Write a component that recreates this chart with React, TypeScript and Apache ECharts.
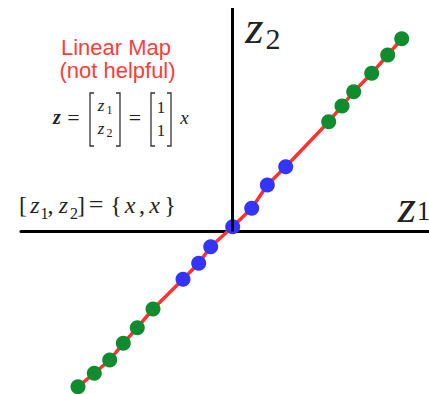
import React, { useEffect, useRef } from "react";
import * as echarts from "echarts";

// Point coordinates (z1, z2), in diagram units
const greenZ1 = [-154, -137.7, -122.3, -108.7, -94.7, -79, 96.7, 110, 121.7, 139.7, 155.7, 169.7];
const greenZ2 = [-155.2, -141.8, -128.5, -111.8, -96.2, -77.5, 109.8, 125.5, 139.8, 158.2, 176.5, 192.7];
const blueZ1 = [-49, -33.3, -21.3, 0.7, 19.7, 35.3, 53.7];
const blueZ2 = [-47.8, -31.8, -15.2, 4.8, 23.2, 46.5, 64.8];

const xMin = -211;
const xMax = 197;
const yMin = -162.5;
const yMax = 223.5;

const title = ["Linear Map", "(not helpful)"];

const serif = "'Liberation Serif', 'DejaVu Serif', serif";
const sans = "'Liberation Sans', Arial, sans-serif";
const ink = "#222";

function t(
  text: string,
  x: number,
  y: number,
  size: number,
  opts: { italic?: boolean; bold?: boolean; family?: string; fill?: string } = {}
) {
  return {
    type: "text",
    x,
    y,
    z: 100,
    silent: true,
    style: {
      text,
      fontSize: size,
      fontFamily: opts.family || serif,
      fontStyle: opts.italic ? "italic" : "normal",
      fontWeight: opts.bold ? "bold" : "normal",
      fill: opts.fill || ink,
      textAlign: "center",
      textVerticalAlign: "middle",
      verticalAlign: "middle",
    },
  };
}

function bracket(x: number, dir: number, top: number, bottom: number) {
  return {
    type: "polyline",
    z: 100,
    silent: true,
    shape: {
      points: [
        [x + dir * 4, top],
        [x, top],
        [x, bottom],
        [x + dir * 4, bottom],
      ],
    },
    style: { stroke: "#333", lineWidth: 1.3, fill: "none" },
  };
}

export default function App() {
  const ref = useRef<HTMLDivElement>(null);
  useEffect(() => {
    if (!ref.current) return;
    const chart = echarts.init(ref.current, null, { renderer: "svg" });
    const green = greenZ1.map((v, i) => [v, greenZ2[i]]);
    const blue = blueZ1.map((v, i) => [v, blueZ2[i]]);
    const all = [...green, ...blue].sort((a, b) => a[0] - b[0]);

    chart.setOption({
      animation: false,
      backgroundColor: "#fff",
      grid: { left: 21, right: 0, top: 8, bottom: 0, containLabel: false },
      xAxis: {
        type: "value",
        min: xMin,
        max: xMax,
        axisLine: { show: true, onZero: true, lineStyle: { color: "#000", width: 3 } },
        axisTick: { show: false },
        axisLabel: { show: false },
        splitLine: { show: false },
      },
      yAxis: {
        type: "value",
        min: yMin,
        max: yMax,
        axisLine: { show: false },
        axisTick: { show: false },
        axisLabel: { show: false },
        splitLine: { show: false },
      },
      series: [
        {
          type: "line",
          data: all,
          showSymbol: false,
          lineStyle: { color: "#ff3333", width: 3.5 },
          z: 2,
          markLine: {
            silent: true,
            symbol: "none",
            label: { show: false },
            lineStyle: { color: "#000", width: 3, type: "solid" },
            data: [[{ coord: [0, 0] }, { coord: [0, yMax] }]],
          },
        },
        {
          type: "scatter",
          data: green,
          symbolSize: 15,
          itemStyle: { color: "#0f8c2e", opacity: 1 },
          z: 3,
        },
        {
          type: "scatter",
          data: blue,
          symbolSize: 15,
          itemStyle: { color: "#3434ff", opacity: 1 },
          z: 3,
        },
      ],
      graphic: [
        t(title[0], 116, 47, 22, { family: sans, fill: "#ff3d3d" }),
        t(title[1], 117.5, 70, 22, { family: sans, fill: "#ff3d3d" }),
        // z = [z1; z2] = [1; 1] x
        t("z", 57, 117, 20, { italic: true, bold: true }),
        t("=", 73.5, 117, 22),
        bracket(90, 1, 93, 146),
        t("z", 101, 105.5, 17, { italic: true }),
        t("1", 109.5, 109.5, 12),
        t("z", 101, 128.5, 17, { italic: true }),
        t("2", 109.5, 132.5, 12),
        bracket(120, -1, 93, 146),
        t("=", 135, 117, 22),
        bracket(151, 1, 93, 146),
        t("1", 161, 107, 17),
        t("1", 161, 130, 17),
        bracket(171, -1, 93, 146),
        t("x", 184.5, 117, 19, { italic: true }),
        // [z1, z2] = {x, x}
        t("[", 23, 204.6, 24),
        t("z", 35, 204.6, 24, { italic: true }),
        t("1", 44.5, 213.5, 16),
        t(",", 50.5, 204.6, 24),
        t("z", 63.5, 204.6, 24, { italic: true }),
        t("2", 74, 213.5, 16),
        t("]", 81, 204.6, 24),
        t("=", 96, 204.6, 26),
        t("{", 116, 204.6, 24),
        t("x", 130, 204.6, 24, { italic: true }),
        t(",", 142, 204.6, 24),
        t("x", 154.5, 204.6, 24, { italic: true }),
        t("}", 170, 204.6, 24),
        // axis labels
        t("z", 254.5, 27, 47, { italic: true }),
        t("2", 273, 38.5, 30),
        t("z", 407, 206, 47, { italic: true }),
        t("1", 423.5, 211, 27),
      ],
    });
    return () => chart.dispose();
  }, []);
  return (
    <div
      ref={ref}
      style={{ position: "absolute", left: 0, top: 0, width: 429, height: 394, background: "#fff" }}
    />
  );
}
